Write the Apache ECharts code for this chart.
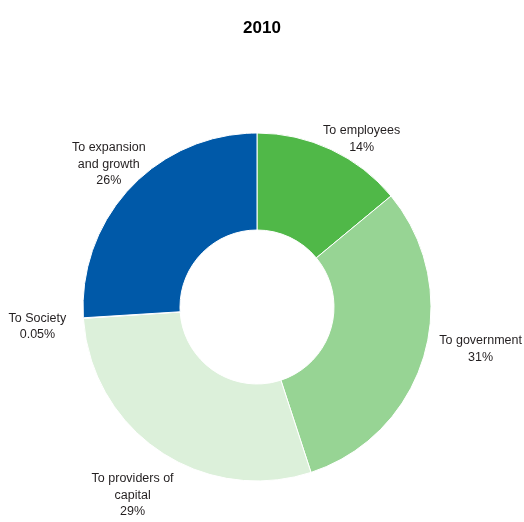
<!DOCTYPE html>
<html><head><meta charset="utf-8">
<script src="https://cdn.jsdelivr.net/npm/echarts@6/dist/echarts.min.js"></script>
<style>html,body{margin:0;padding:0;background:#fff}#c{width:524px;height:522px}</style>
</head><body><div id="c"></div>
<script>
const titleText = '2010';
const categories = ['To employees', 'To government', 'To providers of\ncapital', 'To Society', 'To expansion\nand growth'];
const values = [14, 31, 29, 0.05, 26];
const valueLabels = ['14%', '31%', '29%', '0.05%', '26%'];

const colors = ['#50b848', '#97d494', '#dcf0da', '#b0b0b0', '#0059a8'];
const labelOffsets = [[14, 25], [19, -17], [-5, 12], [-7, 6], [7, 3]];
const font = '"Liberation Sans Narrow", "Arial Narrow", "Liberation Sans", sans-serif';

const chart = echarts.init(document.getElementById('c'));
chart.setOption({
  animation: false,
  title: { text: titleText, left: 'center', top: 15, textStyle: { fontFamily: '"Liberation Sans", Arial, sans-serif', fontWeight: 'bold', fontSize: 17, color: '#000' } },
  series: [
    {
      type: 'pie', center: [257, 307], radius: [77, 174], startAngle: 90, clockwise: true,
      silent: true, label: { show: false }, labelLine: { show: false },
      itemStyle: { borderColor: '#fff', borderWidth: 1 },
      data: categories.map((c, i) => ({ name: c, value: values[i], itemStyle: { color: colors[i] } }))
    },
    {
      type: 'pie', center: [257, 307], radius: [200, 220], startAngle: 90, clockwise: true,
      silent: true, labelLine: { show: false },
      itemStyle: { color: 'rgba(0,0,0,0)' },
      label: { show: true, position: 'inside', rotate: 0, fontFamily: font, fontSize: 12.5, lineHeight: 16.5, color: '#231f20', align: 'center',
        formatter: p => p.name + '\n' + valueLabels[p.dataIndex] },
      data: categories.map((c, i) => ({ name: c, value: values[i], label: { offset: labelOffsets[i] } }))
    }
  ]
});
</script></body></html>
